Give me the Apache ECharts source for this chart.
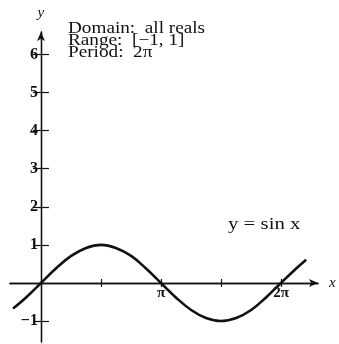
<!DOCTYPE html>
<html>
<head>
<meta charset="utf-8">
<script src="https://cdn.jsdelivr.net/npm/echarts@6/dist/echarts.min.js"></script>
<style>
  html, body { margin: 0; padding: 0; background: #fff; }
  #chart { width: 339px; height: 344px; }
</style>
</head>
<body>
<div id="chart"></div>
<script>
// Sampled points of the sine curve over about one and a quarter periods
const curveX = [-0.73, -0.39, 0, 0.39, 0.79, 1.18, 1.57, 1.96, 2.36, 2.75, 3.14, 3.53, 3.93, 4.32, 4.71, 5.11, 5.50, 5.89, 6.28, 6.68, 6.94];
const curveY = [-0.67, -0.38, 0, 0.38, 0.71, 0.92, 1.0, 0.92, 0.71, 0.38, 0, -0.38, -0.71, -0.92, -1.0, -0.92, -0.71, -0.38, 0, 0.38, 0.61];

// Tick positions and their labels
const xTicks = [1.5708, 3.1416, 4.7124, 6.2832];
const xTickLabels = { '3.1416': 'π', '6.2832': '2π' };
const yTicks = [-1, 1, 2, 3, 4, 5, 6];
const yTickLabels = ['−1', '1', '2', '3', '4', '5', '6'];

// Text block in the upper left and the curve label
const infoLines = ['Domain:  all reals', 'Range:  [−1, 1]', 'Period:  2π'];
const curveName = 'y = sin x';

const xRange = [-0.81, 7.25];
const yRange = [-1.55, 6.59];

const serif = '"Liberation Serif", "DejaVu Serif", serif';
const ink = '#111';

const W = 339, H = 344;
const grid = { left: 10, right: 21, top: 32, bottom: 2 };
const plotW = W - grid.left - grid.right;
const plotH = H - grid.top - grid.bottom;

// Pixel distance from the grid edges to where the axes cross at the origin
const originFromLeft = (0 - xRange[0]) / (xRange[1] - xRange[0]) * plotW;
const originFromBottom = (0 - yRange[0]) / (yRange[1] - yRange[0]) * plotH;

const chart = echarts.init(document.getElementById('chart'), null, { renderer: 'canvas' });

const xLabelValues = xTicks.filter(v => xTickLabels[String(v)]);

const baseX = { type: 'value', min: xRange[0], max: xRange[1], splitLine: { show: false } };
const baseY = { type: 'value', min: yRange[0], max: yRange[1], splitLine: { show: false } };
const axisLineStyle = { color: ink, width: 1.3 };
const tickStyle = { color: ink, width: 1.2 };

chart.setOption({
  animation: false,
  backgroundColor: '#fff',
  grid: Object.assign({ outerBoundsMode: 'none', containLabel: false }, grid),
  xAxis: [
    Object.assign({}, baseX, {
      position: 'bottom',
      offset: -originFromBottom,
      name: 'x',
      nameLocation: 'end',
      nameGap: 11,
      nameTextStyle: { fontFamily: serif, fontStyle: 'italic', fontSize: 15, color: ink, verticalAlign: 'middle' },
      axisLine: { onZero: false, symbol: ['none', 'arrow'], symbolSize: [6, 9], lineStyle: axisLineStyle },
      axisTick: { show: true, customValues: xTicks, length: 4, lineStyle: tickStyle },
      axisLabel: {
        show: true,
        customValues: xLabelValues,
        margin: 3,
        fontFamily: serif,
        fontSize: 15,
        fontWeight: 'bold',
        color: ink,
        formatter: v => xTickLabels[String(v)] || ''
      }
    }),
    Object.assign({}, baseX, {
      position: 'top',
      offset: -(plotH - originFromBottom),
      axisLine: { onZero: false, lineStyle: axisLineStyle },
      axisTick: { show: true, customValues: xTicks, length: 4, lineStyle: tickStyle },
      axisLabel: { show: false }
    })
  ],
  yAxis: [
    Object.assign({}, baseY, {
      position: 'left',
      offset: -originFromLeft,
      name: 'y',
      nameLocation: 'end',
      nameGap: 11,
      nameTextStyle: { fontFamily: serif, fontStyle: 'italic', fontSize: 15, color: ink },
      axisLine: { onZero: false, symbol: ['none', 'arrow'], symbolSize: [6, 9], lineStyle: axisLineStyle },
      axisTick: { show: true, customValues: yTicks, length: 8, lineStyle: tickStyle },
      axisLabel: {
        show: true,
        customValues: yTicks,
        margin: 3,
        fontFamily: serif,
        fontSize: 16,
        fontWeight: 'bold',
        color: ink,
        formatter: v => yTickLabels[yTicks.indexOf(v)]
      }
    }),
    Object.assign({}, baseY, {
      position: 'right',
      offset: -(plotW - originFromLeft),
      axisLine: { onZero: false, lineStyle: axisLineStyle },
      axisTick: { show: true, customValues: yTicks, length: 8, lineStyle: tickStyle },
      axisLabel: { show: false }
    })
  ],
  series: [{
    type: 'line',
    xAxisIndex: 0,
    yAxisIndex: 0,
    data: curveX.map((x, i) => [x, curveY[i]]),
    smooth: 0.4,
    showSymbol: false,
    lineStyle: { color: ink, width: 2.6 },
    z: 5
  }],
  graphic: [
    {
      type: 'text',
      left: 68,
      top: 21,
      scaleX: 1.2,
      style: {
        text: infoLines.join('\n'),
        font: '16px ' + serif,
        lineHeight: 12,
        fill: ink
      }
    },
    {
      type: 'text',
      left: 228,
      top: 217,
      scaleX: 1.3,
      style: {
        text: curveName,
        font: '16px ' + serif,
        fill: ink
      }
    }
  ]
});
</script>
</body>
</html>
